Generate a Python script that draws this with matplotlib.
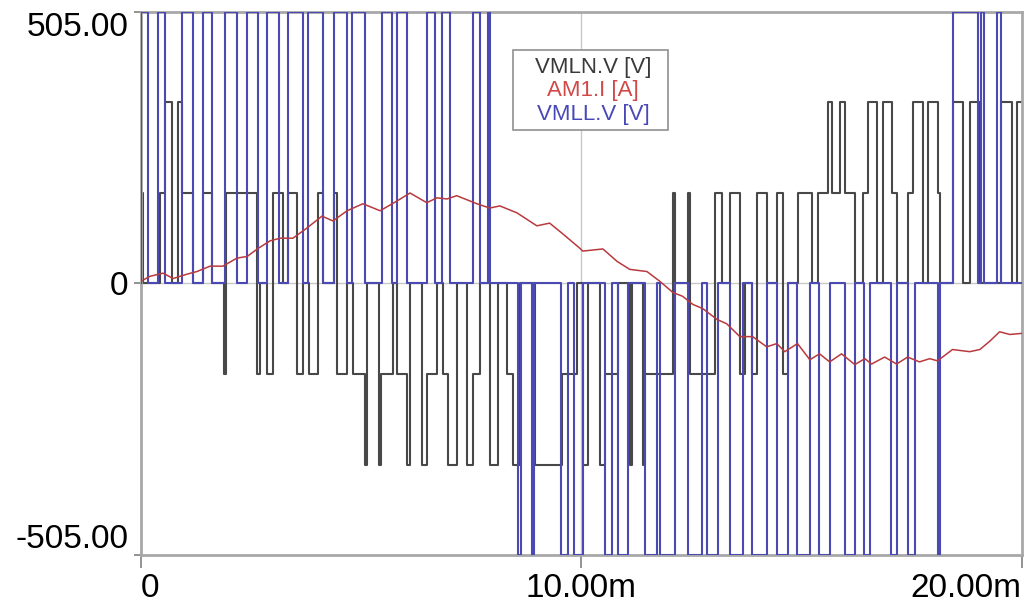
import matplotlib.pyplot as plt
from matplotlib.patches import Rectangle

plt.rcParams['font.family'] = ['Liberation Sans', 'DejaVu Sans']

# VMLN.V [V]: switching instants [ms] and the level held after each one [V]
vmln_t = [0.00, 0.05, 0.43, 0.54, 0.70, 0.84, 0.93, 1.18, 1.41, 1.61,
          1.88, 1.93, 2.63, 2.70, 2.86, 3.00, 3.22, 3.34, 3.54, 3.68,
          3.81, 4.02, 4.13, 4.38, 4.45, 4.68, 4.81, 5.09, 5.13, 5.40,
          5.45, 5.72, 5.81, 6.04, 6.11, 6.38, 6.49, 6.72, 6.86, 6.97,
          7.17, 7.40, 7.54, 7.70, 7.92, 8.10, 8.31, 8.44, 8.60, 8.94,
          9.56, 9.90, 10.03, 10.15, 10.42, 10.53, 10.83, 11.10, 11.15, 11.40,
          11.44, 12.08, 12.12, 12.42, 12.46, 13.03, 13.19, 13.37, 13.60, 13.71,
          13.87, 13.98, 14.21, 14.44, 14.57, 14.69, 14.91, 15.23, 15.37, 15.60,
          15.69, 15.87, 15.98, 16.21, 16.39, 16.50, 16.71, 16.84, 17.05, 17.16,
          17.41, 17.53, 17.75, 17.87, 18.09, 18.14, 18.43, 18.66, 18.82, 19.05,
          19.52, 19.77, 19.89]
vmln_v = [168, 0, 168, 337, 0, 337, 168, 0, 168, 0,
          -168, 168, -168, 0, -168, 168, 0, 168, -168, 0,
          -168, 168, 0, 168, -168, 0, -168, -337, 0, -337,
          -168, 0, -168, -337, 0, -337, -168, 0, -168, -337,
          0, -337, -168, 0, -337, 0, -168, -337, 0, -337,
          -168, 0, -337, 0, -337, -168, 0, -337, 0, -337,
          -168, 168, 0, 168, -168, 168, 0, 168, -168, 0,
          -168, 168, 0, 168, -168, 0, 168, 0, 168, 337,
          168, 337, 168, 0, 168, 337, 0, 337, 168, 0,
          168, 337, 0, 337, 168, 0, 337, 0, 337, 0,
          337, 0, 337]

# VMLL.V [V]: pulses (start ms, end ms, level), zero in between
vmll_start = [0.00, 0.39, 0.93, 1.41, 1.91, 2.41, 2.86, 3.34, 3.79, 4.38,
              4.79, 5.47, 5.81, 6.49, 6.83, 7.54, 7.88, 8.56, 8.87, 9.53,
              9.83, 10.53, 10.83, 11.44, 11.78, 12.42, 12.85, 13.37, 13.87, 14.44,
              14.89, 15.39, 15.98, 16.41, 17.03, 17.41, 18.09, 18.43, 19.07, 19.43]
vmll_end = [0.16, 0.54, 1.18, 1.61, 2.18, 2.66, 3.13, 3.68, 4.13, 4.68,
            5.09, 5.70, 6.04, 6.67, 7.02, 7.70, 7.92, 8.63, 8.92, 9.69,
            10.03, 10.69, 11.06, 11.71, 12.12, 12.74, 13.10, 13.67, 14.21, 14.69,
            15.19, 15.64, 16.21, 16.55, 17.16, 17.57, 18.14, 19.02, 19.14, 19.52]
vmll_level = [505, 505, 505, 505, 505, 505, 505, 505, 505, 505,
              505, 505, 505, 505, 505, 505, 505, -505, -505, -505,
              -505, -505, -505, -505, -505, -505, -505, -505, -505, -505,
              -505, -505, -505, -505, -505, -505, -505, 505, 505, 505]

# AM1.I [A] (shown on the same axis)
am1_t = [0.00, 0.20, 0.50, 0.73, 1.04, 1.27, 1.57, 1.86, 2.18, 2.41,
         2.66, 2.93, 3.16, 3.45, 3.77, 4.11, 4.36, 4.68, 5.04, 5.43,
         5.81, 6.11, 6.49, 6.72, 6.95, 7.17, 7.63, 7.92, 8.15, 8.54,
         8.99, 9.28, 9.58, 9.97, 10.03, 10.49, 10.81, 11.10, 11.49, 11.78,
         12.08, 12.30, 12.53, 12.76, 13.08, 13.30, 13.60, 13.89, 14.21, 14.44,
         14.62, 14.91, 15.19, 15.41, 15.64, 15.91, 16.21, 16.44, 16.59, 16.89,
         17.16, 17.41, 17.68, 17.91, 18.09, 18.43, 18.82, 19.05, 19.27, 19.50,
         19.73, 20.00]
am1_v = [4, 13, 19, 9, 17, 22, 32, 32, 47, 50,
         65, 79, 84, 84, 103, 125, 116, 135, 148, 135,
         153, 168, 150, 159, 157, 163, 148, 140, 144, 131,
         107, 112, 92, 65, 60, 64, 41, 26, 22, 4,
         -17, -24, -39, -47, -67, -75, -99, -99, -118, -112,
         -127, -112, -142, -131, -146, -131, -151, -140, -150, -137,
         -150, -137, -146, -140, -144, -123, -127, -123, -108, -90,
         -95, -93]

labels = ['VMLN.V [V]', 'AM1.I [A]', 'VMLL.V [V]']
label_colors = ['#3a3a3a', '#d04848', '#4848b8']

fig = plt.figure(figsize=(10.24, 6.09), dpi=100)
ax = fig.add_axes([0.1377, 0.0887, 0.860, 0.892])

ax.axvline(10, color='#c8c8c8', lw=1, zorder=0)
ax.axhline(0, color='#c8c8c8', lw=1, zorder=0)

ax.step(vmln_t + [20.0], vmln_v + [vmln_v[-1]], where='post',
        color='#484848', lw=1.5, zorder=2)

xs, ys = [0.0], [0]
for a, b, lvl in zip(vmll_start, vmll_end, vmll_level):
    xs += [a, a, b, b]
    ys += [0, lvl, lvl, 0]
xs.append(20.0)
ys.append(0)
ax.plot(xs, ys, color='#4a4ab2', lw=1.5, zorder=3)

ax.plot(am1_t, am1_v, color='#b83a3e', lw=1.1, zorder=4)

ax.set_xlim(0, 20)
ax.set_ylim(-505, 505)
ax.set_xticks([0, 10, 20])
ax.set_xticklabels(['0', '10.00m', '20.00m'], fontsize=24)
ax.set_yticks([505, 0, -505])
ax.set_yticklabels(['505.00', '0', '-505.00'], fontsize=24)
xl = ax.get_xticklabels()
xl[0].set_ha('left')
xl[2].set_ha('right')
yl = ax.get_yticklabels()
yl[0].set_va('top')
yl[2].set_va('bottom')
ax.tick_params(axis='x', length=9, width=1.2, color='#808080', pad=4)
ax.tick_params(axis='y', length=5, width=1.2, color='#808080', pad=4)

for s in ax.spines.values():
    s.set_color('#a8a8a8')
    s.set_linewidth(2)

# legend box drawn by hand: coloured text only, no line samples
ax.add_patch(Rectangle((0.4222, 0.783), 0.176, 0.147, transform=ax.transAxes,
                       facecolor='white', edgecolor='#909090', lw=1.2, zorder=6))
for y, txt, c in zip([0.897, 0.855, 0.810], labels, label_colors):
    ax.text(0.5136, y, txt, transform=ax.transAxes, ha='center', va='center',
            fontsize=16, color=c, zorder=7)

fig.savefig('out.png', dpi=100)
